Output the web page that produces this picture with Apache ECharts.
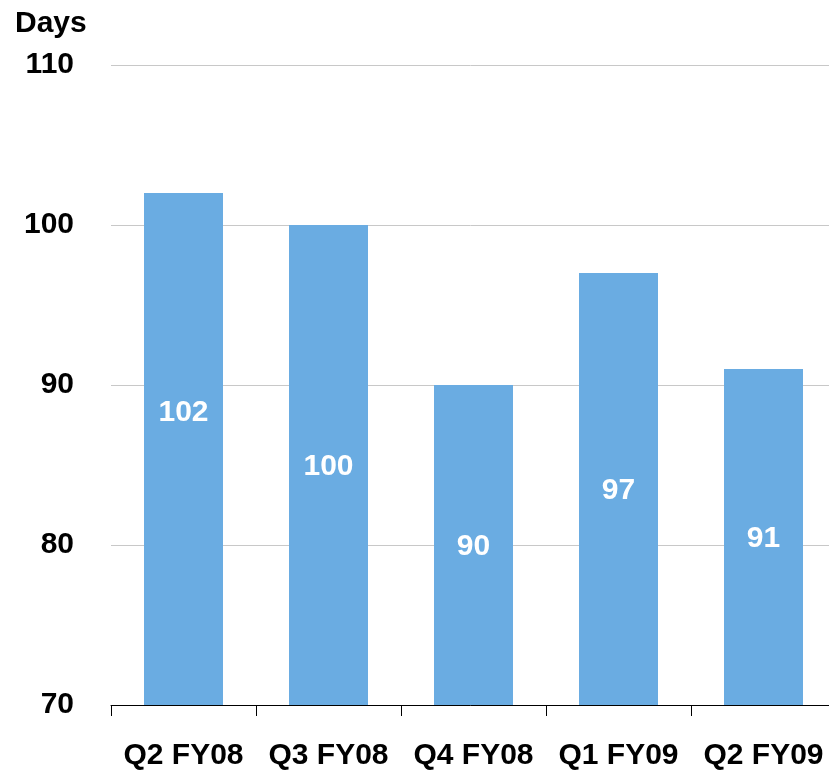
<!DOCTYPE html>
<html>
<head>
<meta charset="utf-8">
<script src="https://cdn.jsdelivr.net/npm/echarts@6/dist/echarts.min.js"></script>
<style>
html,body{margin:0;padding:0;background:#fff;}
#chart{width:829px;height:770px;}
</style>
</head>
<body>
<div id="chart"></div>
<script>
const categories = ['Q2 FY08', 'Q3 FY08', 'Q4 FY08', 'Q1 FY09', 'Q2 FY09'];
const days = [102, 100, 90, 97, 91];
const yTicks = [70, 80, 90, 100, 110];
const axisTitle = 'Days';

const FONT = '"Liberation Sans", Arial, sans-serif';
const chart = echarts.init(document.getElementById('chart'), null, {renderer: 'canvas'});
chart.setOption({
  animation: false,
  backgroundColor: '#ffffff',
  title: {
    text: axisTitle,
    left: 10,
    top: 4,
    textStyle: {fontFamily: FONT, fontSize: 30, fontWeight: 'bold', color: '#000'}
  },
  grid: {left: 111, width: 725, top: 65, bottom: 65, containLabel: false, outerBoundsMode: 'none'},
  xAxis: {
    type: 'category',
    data: categories,
    axisLine: {show: true, lineStyle: {color: '#000', width: 1}},
    axisTick: {show: true, length: 11, alignWithLabel: false, lineStyle: {color: '#000'}},
    axisLabel: {fontFamily: FONT, fontSize: 30, fontWeight: 'bold', color: '#000', margin: 36, interval: 0}
  },
  yAxis: {
    type: 'value',
    min: yTicks[0],
    max: yTicks[yTicks.length - 1],
    interval: 10,
    axisLine: {show: false},
    axisTick: {show: false},
    splitLine: {show: true, lineStyle: {color: '#c8c8c8', width: 1}},
    axisLabel: {fontFamily: FONT, fontSize: 30, fontWeight: 'bold', color: '#000', margin: 37, padding: [6, 0, 0, 0]}
  },
  series: [{
    type: 'bar',
    barWidth: 79,
    itemStyle: {color: '#6aace2'},
    label: {
      show: true,
      position: 'inside',
      offset: [0, 2],
      fontFamily: FONT,
      fontSize: 30,
      fontWeight: 'bold',
      color: '#fff'
    },
    data: days.map((v, i) => i === 0 ? {value: v, label: {offset: [0, -36]}} : v)
  }]
});
</script>
</body>
</html>
